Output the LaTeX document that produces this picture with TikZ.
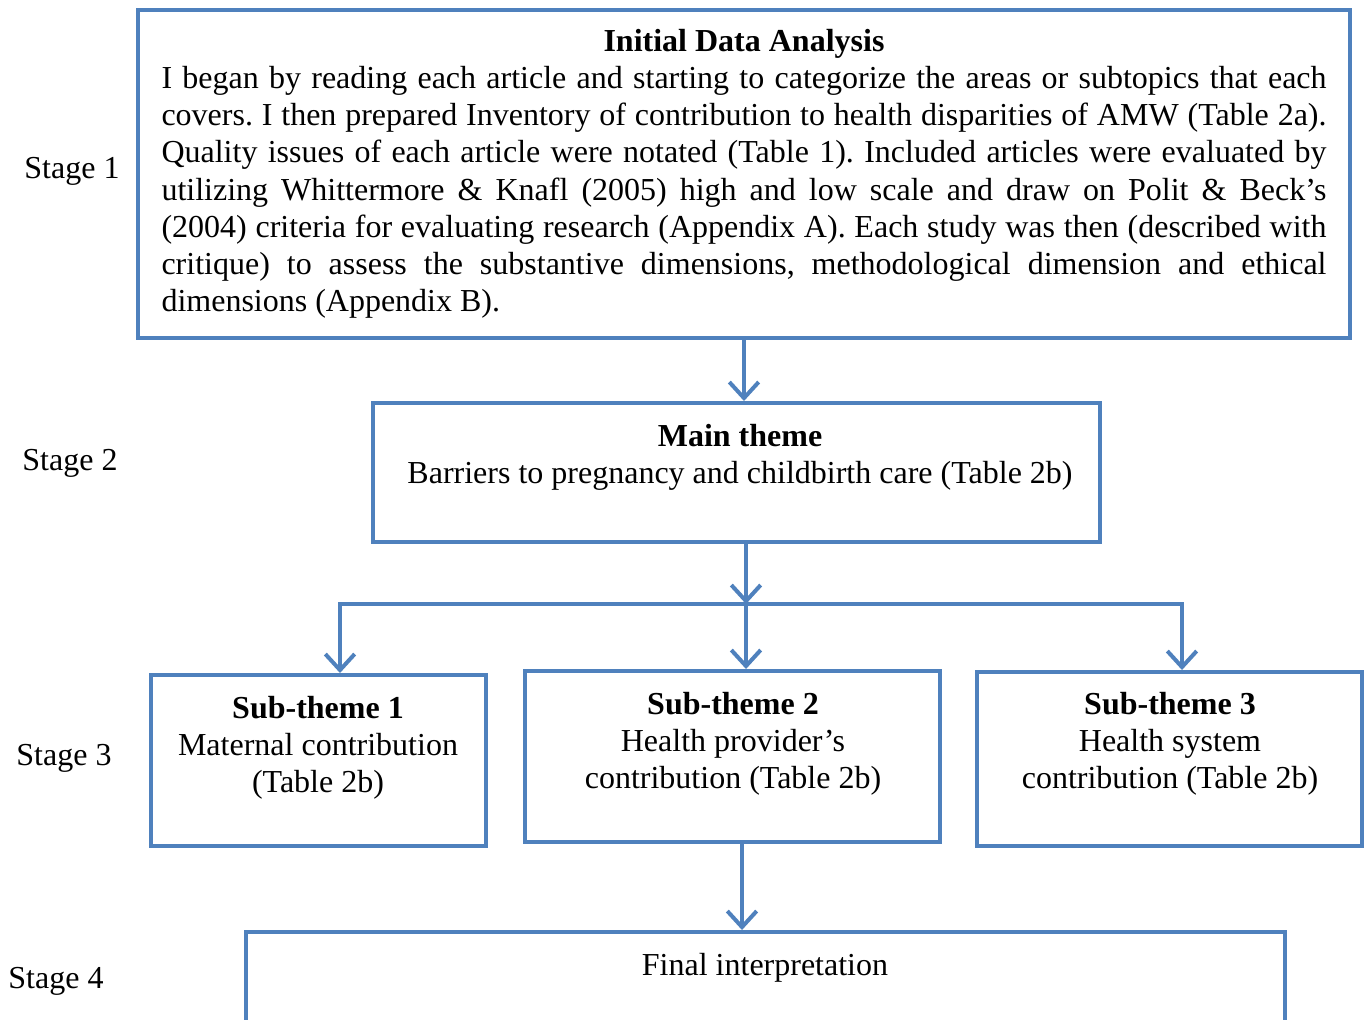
\documentclass[tikz,border=0pt]{standalone}
\usepackage{fontspec}
\setmainfont{Liberation Serif}
\usetikzlibrary{arrows.meta}
\definecolor{wordblue}{HTML}{4F81BD}
\newcommand\pxu{0.375pt}
\begin{document}
\begin{tikzpicture}[x=\pxu,y=-\pxu,font=\fontsize{12}{13.9}\selectfont\frenchspacing,
  box/.style={draw=wordblue,line width=1.5pt,inner sep=0pt},
  txt/.style={inner sep=0pt,anchor=north,align=center},
  flow/.style={draw=wordblue,line width=1.5pt,-{Straight Barb[length=6pt,width=11pt]}}]
  \clip (0,0) rectangle (1364,1019);
  \node[box,minimum width=1212*\pxu,minimum height=328*\pxu] (box1) at (744,174) {};
  \node[box,minimum width=727*\pxu,minimum height=139*\pxu] (box2) at (736.5,472.5) {};
  \node[box,minimum width=335*\pxu,minimum height=171*\pxu] (sub1) at (318.5,760.5) {};
  \node[box,minimum width=415*\pxu,minimum height=171*\pxu] (sub2) at (732.5,756.5) {};
  \node[box,minimum width=385*\pxu,minimum height=174*\pxu] (sub3) at (1169.5,759) {};
  \node[box,minimum width=1039*\pxu,minimum height=160*\pxu] (box4) at (765.5,1012) {};
  \node[txt,text width=1165*\pxu,align=justify] (analysis) at (744,29) {\hyphenpenalty=10000{\centering\textbf{Initial Data Analysis}\par}I began by reading each article and starting to categorize the areas or subtopics that each covers. I then prepared Inventory of contribution to health disparities of AMW (Table 2a). Quality issues of each article were notated (Table 1). Included articles were evaluated by utilizing Whittermore \& Knafl (2005) high and low scale and draw on Polit \& Beck’s\linebreak (2004) criteria for evaluating research (Appendix A). Each study was then (described with\linebreak critique) to assess the substantive dimensions, methodological dimension and ethical\linebreak dimensions (Appendix B).};
  \node[txt] (theme) at (740,424) {\textbf{Main theme}\\Barriers to pregnancy and childbirth care (Table 2b)};
  \node[txt] (theme1) at (318,696) {\textbf{Sub-theme 1}\\Maternal contribution\\(Table 2b)};
  \node[txt] (theme2) at (733,692) {\textbf{Sub-theme 2}\\Health provider’s\\contribution (Table 2b)};
  \node[txt] (theme3) at (1170,692) {\textbf{Sub-theme 3}\\Health system\\contribution (Table 2b)};
  \node[txt] (final) at (765,953) {Final interpretation};
  \node (stage1) at (72,171) {Stage 1}; \node (stage2) at (70,463) {Stage 2};
  \node (stage3) at (64,758) {Stage 3}; \node (stage4) at (56,981) {Stage 4};
  \coordinate (split) at (746,604); \coordinate (lt) at (340,604); \coordinate (rt) at (1182,604); \coordinate (jn) at (742,887);
  \draw[flow] (box1.south) -- (box1.south |- box2.north);
  \draw[flow] (split |- box2.south) -- (split); \draw[flow] (split) -- (split |- sub2.north);
  \draw[flow] (split) -- (lt) -- (lt |- sub1.north); \draw[flow] (split) -- (rt) -- (rt |- sub3.north);
  \draw[flow] (jn |- sub2.south) -- (jn |- box4.north);
\end{tikzpicture}
\end{document}
